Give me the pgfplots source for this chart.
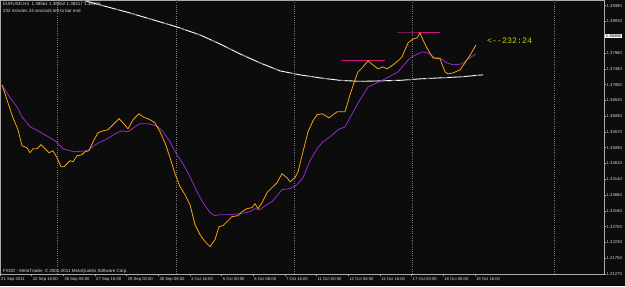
\documentclass[border=0pt]{standalone}
\usepackage{pgfplots}
\usepackage{pgfplotstable}
\pgfplotsset{compat=1.18}
\usetikzlibrary{calc}
\usepackage{fontspec}
\setmainfont{Liberation Sans}
\setmonofont{Liberation Mono}
\definecolor{bg}{RGB}{12,12,12}
\definecolor{framec}{RGB}{170,170,170}
\definecolor{gridc}{RGB}{120,120,120}
\definecolor{orangec}{RGB}{250,160,10}
\definecolor{purplec}{RGB}{145,45,200}
\definecolor{magc}{RGB}{205,20,125}
\definecolor{magdark}{RGB}{125,20,90}
\definecolor{yelc}{RGB}{200,200,20}
\definecolor{txtc}{RGB}{215,215,215}
\pgfdeclarelayer{back}
\pgfsetlayers{back,main}

\pgfplotstableread{
x y
2 1.36992
7 1.36539
13 1.35995
18 1.35632
22 1.35148
27 1.35088
30 1.34937
33 1.35058
37 1.35058
41 1.35179
45 1.35058
49 1.34937
53 1.34997
57 1.34786
61 1.34514
64 1.34514
67 1.34604
70 1.34695
73 1.34665
77 1.34846
82 1.34876
85 1.34967
89 1.34997
93 1.35269
98 1.35541
103 1.35602
108 1.35632
113 1.35783
119 1.35965
123 1.35844
128 1.35662
133 1.35934
139 1.36116
143 1.36025
148 1.35965
150 1.35934
155 1.35844
160 1.35572
165 1.35239
170 1.34786
175 1.34302
180 1.33909
185 1.33667
190 1.33365
195 1.32760
200 1.32458
205 1.32246
210 1.32095
215 1.32307
219 1.32700
223 1.32730
232 1.33002
238 1.33032
242 1.33153
247 1.33244
252 1.33274
255 1.33395
258 1.33244
262 1.33425
267 1.33728
272 1.33879
277 1.34030
282 1.34302
287 1.34181
290 1.34060
295 1.34181
298 1.34362
303 1.34967
308 1.35572
313 1.35904
317 1.36086
322 1.36116
329 1.35995
333 1.36086
337 1.36176
345 1.36176
350 1.36690
355 1.37144
358 1.37385
363 1.37537
368 1.37718
373 1.37597
378 1.37476
383 1.37537
387 1.37476
393 1.37597
398 1.37718
402 1.37839
408 1.38262
413 1.38383
417 1.38413
420 1.38564
423 1.38353
428 1.38051
433 1.37809
440 1.37778
445 1.37385
448 1.37325
453 1.37355
460 1.37446
467 1.37748
472 1.37990
476 1.38202
}\orangedata

\pgfplotstableread{
x y
2 1.36992
10 1.36599
17 1.36327
22 1.36025
30 1.35723
38 1.35602
43 1.35511
50 1.35390
55 1.35300
63 1.35058
70 1.34997
75 1.34967
87 1.34997
90 1.35058
97 1.35209
107 1.35360
117 1.35541
122 1.35602
128 1.35572
135 1.35723
140 1.35813
148 1.35813
153 1.35783
158 1.35723
163 1.35572
170 1.35269
177 1.34876
183 1.34604
190 1.34211
197 1.33758
203 1.33425
210 1.33123
215 1.33032
220 1.33062
230 1.33062
240 1.33093
250 1.33153
255 1.33244
260 1.33214
265 1.33335
272 1.33455
282 1.33818
290 1.33849
297 1.33969
303 1.34181
310 1.34695
317 1.35058
323 1.35269
330 1.35420
338 1.35632
345 1.35723
350 1.35995
357 1.36388
368 1.36932
377 1.37053
387 1.37204
398 1.37385
410 1.37809
422 1.37990
428 1.37960
435 1.37809
440 1.37809
447 1.37657
453 1.37597
462 1.37627
468 1.37778
476 1.37930
}\purpledata

\pgfplotstableread{
x y
82 1.39562
130 1.39169
177 1.38746
200 1.38504
220 1.38232
240 1.37930
260 1.37658
280 1.37416
300 1.37295
320 1.37204
340 1.37129
360 1.37098
380 1.37113
400 1.37129
420 1.37174
440 1.37204
460 1.37234
483 1.37295
}\whitedata

\begin{document}
\begin{tikzpicture}[x=1pt,y=1pt]
\begin{axis}[
  scale only axis, width=604pt, height=274pt,
  xmin=0, xmax=604, ymin=1.31265, ymax=1.39562,
  axis line style={draw=framec, line width=0.6pt},
  tick style={draw=framec, line width=0.5pt},
  tick align=outside, major tick length=2pt,
  xtick pos=bottom, ytick pos=right, yticklabel pos=right,
  xtick={0,31.65,63.3,95,126.6,158.3,190,221.6,253.2,284.9,316.5,348.2,379.8,411.5,443.1,474.8},
  xticklabels={21 Sep 2011,22 Sep 16:00,26 Sep 08:00,27 Sep 16:00,29 Sep 00:00,30 Sep 08:00,3 Oct 16:00,5 Oct 00:00,6 Oct 08:00,7 Oct 16:00,11 Oct 00:00,12 Oct 08:00,13 Oct 16:00,17 Oct 00:00,18 Oct 08:00,19 Oct 16:00},
  xticklabel style={anchor=north west, font=\fontsize{4.2}{5}\selectfont, text=txtc, inner sep=0pt, xshift=1pt, yshift=-1.2pt},
  ytick={1.31270,1.31750,1.32230,1.32700,1.33180,1.33660,1.34140,1.34610,1.35090,1.35570,1.36050,1.36520,1.37000,1.37480,1.37960,1.38910,1.39390},
  yticklabels={1.31270,1.31750,1.32230,1.32700,1.33180,1.33660,1.34140,1.34610,1.35090,1.35570,1.36050,1.36520,1.37000,1.37480,1.37960,1.38910,1.39390},
  yticklabel style={anchor=west, font=\fontsize{4.2}{5}\selectfont, text=txtc, inner sep=0pt, xshift=0.5pt},
  extra x ticks={57,176,294,412,554},
  extra x tick labels={},
  extra x tick style={grid=major, major tick length=0pt, major grid style={draw=gridc, line width=0.6pt, dash pattern=on 1pt off 1.2pt}},
  clip=true,
]
\coordinate (BL) at (rel axis cs:0,0);
\coordinate (TR) at (rel axis cs:1,1);
\coordinate (PB) at (axis cs:604,1.38466);
\addplot[white, line width=0.9pt] table {\whitedata};
\addplot[gray, line width=0.9pt, dash pattern=on 5pt off 12pt] table {\whitedata};
\addplot[magc, line width=0.9pt] coordinates {(341,1.37727) (385,1.37727)};
\addplot[magc, line width=0.9pt] coordinates {(397,1.38574) (440,1.38574)};
\addplot[magdark, line width=0.9pt] coordinates {(397,1.38574) (418,1.38574)};
\addplot[purplec, line width=0.8pt] table {\purpledata};
\addplot[orangec, line width=0.8pt] table {\orangedata};
\end{axis}
\node[anchor=west, fill=white, text=black, inner sep=0.6pt, font=\fontsize{4.2}{5}\selectfont] at ($(PB)+(1,0)$) {1.38466};
\node[anchor=west, text=txtc, inner sep=0pt, font=\fontsize{4.5}{5}\selectfont] at ($(BL|-TR)+(3,-4)$) {EURUSD,H4\ \ 1.38561 1.38562 1.38417 1.38466};
\node[anchor=west, text=txtc, inner sep=0pt, font=\fontsize{4.5}{5}\selectfont] at ($(BL|-TR)+(3,-11)$) {232 minutes 24 seconds left to bar end};
\node[anchor=west, text=txtc, inner sep=0pt, font=\fontsize{4.5}{5}\selectfont] at ($(BL)+(3,2.5)$) {FXDD - MetaTrader, © 2001-2011 MetaQuotes Software Corp.};
\node[anchor=west, text=yelc, inner sep=0pt, font=\ttfamily\fontsize{8.3}{9}\selectfont] at ($(BL|-TR)+(487,-41)$) {<{-}{-}232:24};
\begin{pgfonlayer}{back}
\fill[bg] ($(BL)+(0,-12)$) rectangle ($(TR)+(21,0)$);
\end{pgfonlayer}
\pgfresetboundingbox
\path ($(BL)+(0,-12)$) rectangle ($(TR)+(21,0)$);
\end{tikzpicture}
\end{document}
